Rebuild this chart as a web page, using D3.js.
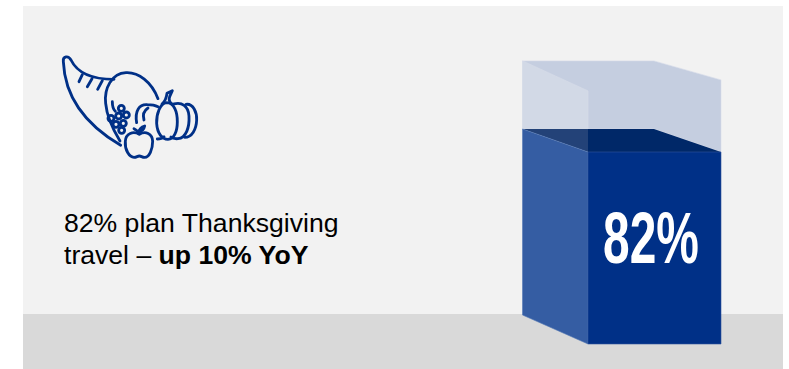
<!DOCTYPE html>
<html>
<head>
<meta charset="utf-8">
<script src="https://cdn.jsdelivr.net/npm/d3@7/dist/d3.min.js"></script>
<style>
  html, body { margin: 0; padding: 0; background: #fff; }
  svg { display: block; }
  text { font-family: "Liberation Sans", Arial, sans-serif; }
</style>
</head>
<body>
<script>
// Share of travellers planning a Thanksgiving trip
const categories = ["Plan Thanksgiving travel"];
const shareValues = [82];
const containerValues = [112.8];
const headlineLines = [
  [{ t: "82% plan Thanksgiving", b: false }],
  [{ t: "travel – ", b: false }, { t: "up 10% YoY", b: true }]
];

const width = 789, height = 369;
const svg = d3.select("body").append("svg").attr("width", width).attr("height", height);

// Room backdrop: wall and floor
svg.append("rect").attr("x", 23).attr("y", 6).attr("width", 760).attr("height", 308).attr("fill", "#f2f2f2");
svg.append("rect").attr("x", 23).attr("y", 314).attr("width", 760).attr("height", 55).attr("fill", "#d9d9d9");

// Scales for the front face of the box
const x = d3.scaleBand().domain(categories).range([588, 721]);
const y = d3.scaleLinear().domain([0, 82]).range([344, 152]);

const line = d3.line();
const face = (pts, fill, stroke) => svg.append("path")
  .attr("d", line(pts) + "Z")
  .attr("fill", fill)
  .attr("stroke", stroke || "none")
  .attr("stroke-width", stroke ? 0.6 : 0);

categories.forEach((c, i) => {
  const x0 = x(c), x1 = x0 + x.bandwidth();
  const xLeft = x0 - 65.5;        // far-left edge of the side wall
  const xBack = x1 - 67;          // far-right edge of the back wall
  const fillY = y(shareValues[i]);
  const topY = y(containerValues[i]);
  const backDrop = 23;            // how far the liquid surface recedes upward
  const sideFloor = 29;           // how far the side wall recedes at the floor
  const rimBack = topY - 19;      // back edge of the glass rim

  // Empty part of the glass box
  face([[xLeft, rimBack], [xBack, rimBack], [x1, topY], [x1, fillY],
        [xBack, fillY - backDrop], [xLeft, fillY - backDrop]], "#c5cee0", "#d6dce9");
  face([[xLeft, rimBack], [x0, topY + 11], [x0, fillY - backDrop], [xLeft, fillY - backDrop]], "#d2d9e6", "#d8deea");

  // Liquid surface seen through the glass
  face([[x0, fillY - backDrop], [xBack, fillY - backDrop], [x1, fillY], [x0, fillY]], "#002868");
  face([[xLeft, fillY - backDrop], [x0, fillY - backDrop], [x0, fillY]], "#234278");

  // Filled side and front faces
  face([[xLeft, fillY - backDrop], [x0, fillY], [x0, y(0)], [xLeft, y(0) - sideFloor]], "#355da3", "#5478b5");
  face([[x0, fillY], [x1, fillY], [x1, y(0)], [x0, y(0)]], "#003087", "#2f56a0");

  // Value label on the front face, set condensed
  svg.append("text")
    .attr("transform", `translate(${(x0 + x1) / 2 - 3.5},263) scale(0.665,1)`)
    .attr("text-anchor", "middle")
    .attr("fill", "#ffffff")
    .attr("font-weight", 700)
    .attr("font-size", 72)
    .text(shareValues[i] + "%");
});

// Headline text
const head = svg.append("text").attr("fill", "#000000").attr("font-size", 26.6);
headlineLines.forEach((runs, i) => {
  runs.forEach((r, j) => {
    const s = head.append("tspan").attr("font-weight", r.b ? 700 : 400).text(r.t);
    if (j === 0) s.attr("x", 64).attr("y", 232 + i * 32);
  });
});

// Cornucopia line icon
const icon = svg.append("g")
  .attr("transform", "translate(40,40) scale(0.3333)")
  .attr("fill", "none")
  .attr("stroke", "#003087")
  .attr("stroke-width", 8.5)
  .attr("stroke-linecap", "round")
  .attr("stroke-linejoin", "round");
[
  // horn body
  "M242,316 C150,262 75,185 70,65 C68,48 85,46 93,60 C115,105 165,118 222,118",
  // horn mouth
  "M354,176 C335,125 295,96 258,98 C215,100 192,145 197,190 C200,225 220,270 240,303",
  // ribs on the horn
  "M127,104 L117,125 M156,116 L142,140 M187,122 L173,148",
  // grape stem
  "M217,185 C217,198 220,208 226,214",
  // pumpkin left lobes
  "M290,248 C284,212 298,192 322,194 C336,194 346,196 354,200",
  "M324,204 C312,212 308,226 312,240",
  // pumpkin base, left of centre
  "M352,297 C362,297 368,294 372,290",
  // pumpkin centre
  "M380,188 C360,190 349,222 350,250 C352,280 366,298 384,298 C402,298 412,275 412,245 C412,215 402,188 380,188 Z",
  // pumpkin right lobes
  "M402,192 C425,186 445,197 447,228 C449,262 438,294 414,296 C405,297 398,295 393,291",
  "M438,193 C460,190 471,218 470,240 C469,268 456,292 434,292",
  // pumpkin stem
  "M366,192 C378,182 380,168 381,160 L397,152 L389,170 C386,178 388,186 396,192",
  // apple
  "M298,283 C280,272 257,280 256,304 C254,330 268,352 282,352 C290,352 292,348 298,348 C304,348 306,352 314,352 C328,352 338,328 338,304 C337,280 316,272 298,283 Z",
  "M296,281 C294,274 290,270 282,266 M296,276 C298,266 304,261 314,258 C312,268 306,274 296,276 Z"
].forEach(d => icon.append("path").attr("d", d));
// grape cluster
const grapes = [[244, 205], [236, 228], [259, 225], [213, 235], [228, 253], [250, 250], [245, 271]];
icon.selectAll("circle.grape").data(grapes).enter().append("circle")
  .attr("class", "grape").attr("cx", d => d[0]).attr("cy", d => d[1]).attr("r", 9);
</script>
</body>
</html>
